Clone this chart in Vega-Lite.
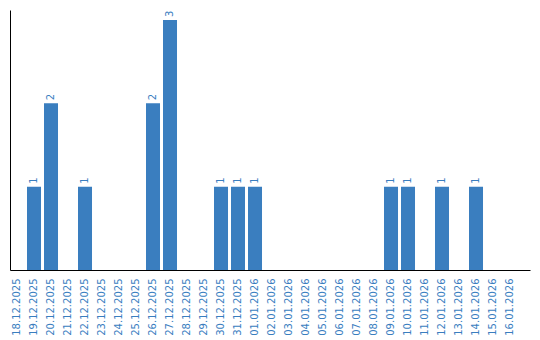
{
  "$schema": "https://vega.github.io/schema/vega-lite/v6.json",
  "autosize": "none",
  "padding": {"left": 10, "top": 10, "right": 10, "bottom": 70},
  "width": 520,
  "height": 260,
  "background": "white",
  "config": {"view": {"stroke": null}},
  "data": {"values": [
    {"date": "18.12.2025", "count": 0},
    {"date": "19.12.2025", "count": 1},
    {"date": "20.12.2025", "count": 2},
    {"date": "21.12.2025", "count": 0},
    {"date": "22.12.2025", "count": 1},
    {"date": "23.12.2025", "count": 0},
    {"date": "24.12.2025", "count": 0},
    {"date": "25.12.2025", "count": 0},
    {"date": "26.12.2025", "count": 2},
    {"date": "27.12.2025", "count": 3},
    {"date": "28.12.2025", "count": 0},
    {"date": "29.12.2025", "count": 0},
    {"date": "30.12.2025", "count": 1},
    {"date": "31.12.2025", "count": 1},
    {"date": "01.01.2026", "count": 1},
    {"date": "02.01.2026", "count": 0},
    {"date": "03.01.2026", "count": 0},
    {"date": "04.01.2026", "count": 0},
    {"date": "05.01.2026", "count": 0},
    {"date": "06.01.2026", "count": 0},
    {"date": "07.01.2026", "count": 0},
    {"date": "08.01.2026", "count": 0},
    {"date": "09.01.2026", "count": 1},
    {"date": "10.01.2026", "count": 1},
    {"date": "11.01.2026", "count": 0},
    {"date": "12.01.2026", "count": 1},
    {"date": "13.01.2026", "count": 0},
    {"date": "14.01.2026", "count": 1},
    {"date": "15.01.2026", "count": 0},
    {"date": "16.01.2026", "count": 0}
  ]},
  "encoding": {
    "x": {
      "field": "date", "type": "ordinal", "sort": null,
      "scale": {"paddingInner": 0.176, "paddingOuter": 0.382, "align": 0},
      "axis": {
        "title": null, "labelAngle": -90, "labelAlign": "right", "labelBaseline": "middle",
        "labelColor": "#3a7ebf", "labelFont": "DejaVu Sans", "labelFontSize": 10,
        "labelPadding": 8, "ticks": false, "domainColor": "#000000", "domainWidth": 1,
        "labelOverlap": false
      }
    },
    "y": {
      "field": "count", "type": "quantitative",
      "scale": {"domain": [0, 3.12], "nice": false},
      "axis": {
        "title": null, "labels": false, "ticks": false, "grid": false,
        "domainColor": "#000000", "domainWidth": 1
      }
    }
  },
  "layer": [
    {"mark": {"type": "bar", "color": "#3a7ebf"}},
    {
      "transform": [{"filter": "datum.count > 0"}],
      "mark": {"type": "text", "angle": -90, "align": "left", "baseline": "middle", "dx": 3,
               "font": "DejaVu Sans", "fontSize": 10, "color": "#3a7ebf"},
      "encoding": {"text": {"field": "count", "type": "quantitative"}}
    }
  ]
}
